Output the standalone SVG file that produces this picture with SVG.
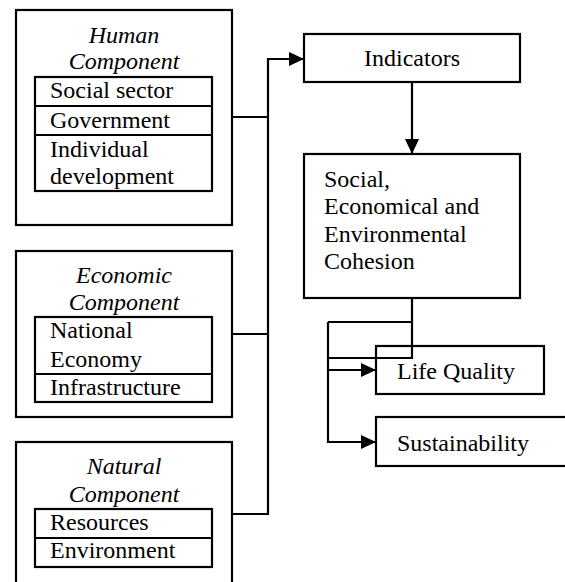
<svg xmlns="http://www.w3.org/2000/svg" width="565" height="582" viewBox="0 0 565 582">
<defs>
<style>
.box{fill:#fff;stroke:#000;stroke-width:2.2}
.t{font-family:"Liberation Serif","Times New Roman",serif;font-size:24px;fill:#000}
.i{font-style:italic;text-anchor:middle}
.c{text-anchor:middle}
.ln{fill:none;stroke:#000;stroke-width:2.2}
</style>
<marker id="ah" markerUnits="userSpaceOnUse" markerWidth="16" markerHeight="14" refX="15" refY="7" orient="auto">
<path d="M0,0 L15,7 L0,14 Z" fill="#000"/>
</marker>
</defs>
<rect width="565" height="582" fill="#fff"/>
<g id="human">
<rect class="box" x="16" y="10" width="216" height="215"/>
<text class="t i" x="124" y="43">Human</text>
<text class="t i" x="124" y="69">Component</text>
<rect class="box" x="35" y="77" width="177" height="114"/>
<line class="ln" x1="35" y1="106" x2="212" y2="106"/>
<line class="ln" x1="35" y1="135" x2="212" y2="135"/>
<text class="t" x="50" y="98">Social sector</text>
<text class="t" x="50" y="128">Government</text>
<text class="t" x="50" y="157">Individual</text>
<text class="t" x="50" y="184">development</text>
</g>
<g id="economic">
<rect class="box" x="16" y="251" width="216" height="166"/>
<text class="t i" x="124" y="283">Economic</text>
<text class="t i" x="124" y="310">Component</text>
<rect class="box" x="35" y="317" width="177" height="85"/>
<line class="ln" x1="35" y1="374" x2="212" y2="374"/>
<text class="t" x="50" y="338">National</text>
<text class="t" x="50" y="367">Economy</text>
<text class="t" x="50" y="395">Infrastructure</text>
</g>
<g id="natural">
<rect class="box" x="16" y="442" width="216" height="160"/>
<text class="t i" x="124" y="474">Natural</text>
<text class="t i" x="124" y="502">Component</text>
<rect class="box" x="35" y="509" width="177" height="58"/>
<line class="ln" x1="35" y1="538" x2="212" y2="538"/>
<text class="t" x="50" y="530">Resources</text>
<text class="t" x="50" y="558">Environment</text>
</g>
<g id="indicators">
<rect class="box" x="304" y="34" width="216" height="48"/>
<text class="t c" x="412" y="66">Indicators</text>
</g>
<g id="cohesion">
<rect class="box" x="304" y="154" width="216" height="144"/>
<text class="t" x="324" y="187">Social,</text>
<text class="t" x="324" y="214">Economical and</text>
<text class="t" x="324" y="242">Environmental</text>
<text class="t" x="324" y="269">Cohesion</text>
</g>
<g id="lifequality">
<rect class="box" x="376" y="346" width="168" height="48"/>
<text class="t" x="397" y="379">Life Quality</text>
</g>
<g id="sustainability">
<rect class="box" x="376" y="417" width="200" height="49"/>
<text class="t" x="397" y="451">Sustainability</text>
</g>
<g id="connectors">
<line class="ln" x1="232" y1="117" x2="268" y2="117"/>
<line class="ln" x1="232" y1="334" x2="268" y2="334"/>
<path class="ln" d="M232,514 H268 V59 H304" marker-end="url(#ah)"/>
<line class="ln" x1="412" y1="82" x2="412" y2="154" marker-end="url(#ah)"/>
<path class="ln" d="M412,298 V358 H328 M328,322 H412"/>
<path class="ln" d="M328,322 V442 H376" marker-end="url(#ah)"/>
<line class="ln" x1="328" y1="370" x2="376" y2="370" marker-end="url(#ah)"/>
</g>
</svg>
